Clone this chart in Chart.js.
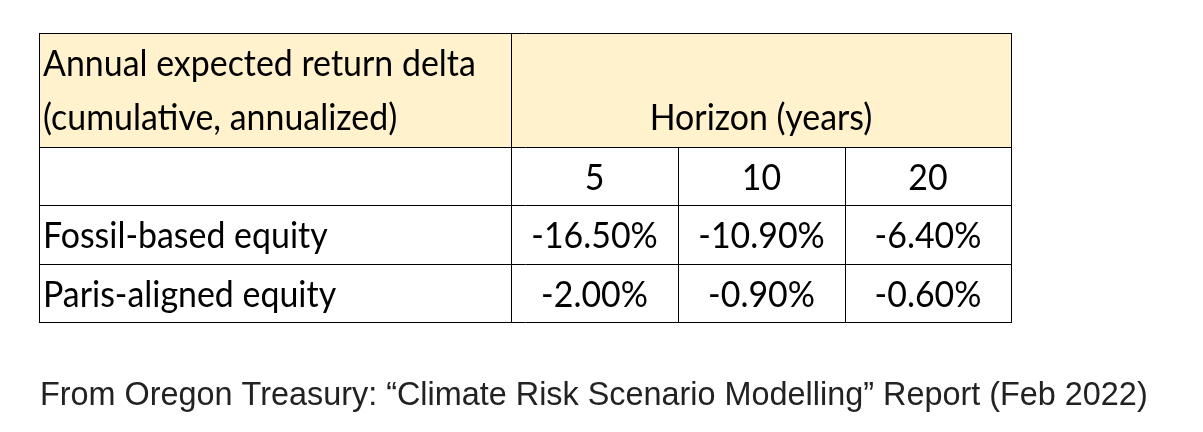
<!DOCTYPE html>
<html>
<head>
<meta charset="utf-8">
<script src="https://cdn.jsdelivr.net/npm/chart.js@4.4.1/dist/chart.umd.min.js"></script>
<style>
  html, body { margin: 0; padding: 0; background: #ffffff; }
  #wrap { position: relative; width: 1203px; height: 432px; }
  canvas { position: absolute; left: 0; top: 0; }
</style>
</head>
<body>
<div id="wrap"><canvas id="c" width="1203" height="432"></canvas></div>
<script>
// ---- data ----
const headerLines = ['Annual expected return delta', '(cumulative, annualized)'];
const horizonTitle = 'Horizon (years)';
const horizons = ['5', '10', '20'];
const rowLabels = ['Fossil-based equity', 'Paris-aligned equity'];
const fossilValues = [-16.5, -10.9, -6.4];
const parisValues = [-2.0, -0.9, -0.6];
const caption = 'From Oregon Treasury: \u201CClimate Risk Scenario Modelling\u201D Report (Feb 2022)';

const seriesValues = [fossilValues, parisValues];
const fmt = v => v.toFixed(2) + '%';

// fit font sizes to reference text widths
const mctx = document.createElement('canvas').getContext('2d');
function fitSize(family, text, target, weight) {
  mctx.font = (weight || 'normal') + ' 100px ' + family;
  return 100 * target / mctx.measureText(text).width;
}
const tableFamily = 'Lato';
const tableSize = fitSize(tableFamily, headerLines[0], 433);
const captionFamily = '"Liberation Sans", Arial';
const captionSize = fitSize(captionFamily, caption, 1108);

function drawText(ctx, t, x, y, sy) {
  ctx.save();
  ctx.translate(x, y);
  ctx.scale(1, sy);
  ctx.fillText(t, 0, 0);
  ctx.restore();
}

const tablePlugin = {
  id: 'tablePlugin',
  afterDraw(chart, args, opts) {
    const ctx = chart.ctx;
    const xs = chart.scales.x, ys = chart.scales.y;
    const X = v => xs.getPixelForValue(v);
    const Y = v => ys.getPixelForValue(v);
    const cols = opts.colEdges, rows = opts.rowEdges;
    const snap = p => Math.round(p) + 0.5;
    const sy = opts.textStretch;

    ctx.save();
    // header fill
    ctx.fillStyle = opts.headerFill;
    ctx.fillRect(X(cols[0]), Y(rows[0]), X(cols[cols.length - 1]) - X(cols[0]), Y(rows[1]) - Y(rows[0]));

    // grid lines
    ctx.strokeStyle = opts.lineColor;
    ctx.lineWidth = 1;
    ctx.beginPath();
    rows.forEach(r => {
      const y = snap(Y(r));
      ctx.moveTo(X(cols[0]), y); ctx.lineTo(X(cols[cols.length - 1]) + 1, y);
    });
    cols.forEach((c, i) => {
      const x = snap(X(c));
      const top = (i === 0 || i === 1 || i === cols.length - 1) ? rows[0] : rows[1];
      ctx.moveTo(x, Y(top)); ctx.lineTo(x, Y(rows[rows.length - 1]) + 1);
    });
    ctx.stroke();

    // text
    ctx.fillStyle = opts.textColor;
    ctx.font = tableSize.toFixed(2) + 'px ' + tableFamily;
    ctx.textBaseline = 'alphabetic';
    const pad = opts.padLeft;
    // header lines
    ctx.textAlign = 'left';
    headerLines.forEach((t, k) => {
      drawText(ctx, t, X(cols[0]) + pad, Y(rows[0] + opts.baseline + k * opts.headerLineGap), sy);
    });
    ctx.textAlign = 'center';
    drawText(ctx, horizonTitle, (X(cols[1]) + X(cols[cols.length - 1])) / 2,
      Y(rows[0] + opts.baseline + (headerLines.length - 1) * opts.headerLineGap), sy);
    // horizons
    horizons.forEach((h, j) => {
      drawText(ctx, h, (X(cols[j + 1]) + X(cols[j + 2])) / 2, Y(rows[1] + opts.baseline), sy);
    });
    // body rows
    rowLabels.forEach((lab, i) => {
      const yb = Y(rows[i + 2] + opts.baseline);
      ctx.textAlign = 'left';
      drawText(ctx, lab, X(cols[0]) + pad, yb, sy);
      ctx.textAlign = 'center';
      seriesValues[i].forEach((v, j) => {
        drawText(ctx, fmt(v), (X(cols[j + 1]) + X(cols[j + 2])) / 2, yb, sy);
      });
    });
    // caption
    ctx.fillStyle = opts.captionColor;
    ctx.textAlign = 'left';
    ctx.font = captionSize.toFixed(2) + 'px ' + captionFamily;
    drawText(ctx, caption, opts.captionX, opts.captionY, opts.captionStretch);
    ctx.restore();
  }
};

new Chart(document.getElementById('c'), {
  type: 'scatter',
  data: { datasets: [] },
  options: {
    responsive: false,
    animation: false,
    devicePixelRatio: 1,
    layout: { padding: { left: 39, top: 33, right: 192, bottom: 110 } },
    scales: {
      x: { type: 'linear', min: 0, max: 972, offset: false, display: false },
      y: { type: 'linear', min: 0, max: 289, reverse: true, offset: false, display: false }
    },
    plugins: {
      legend: { display: false },
      title: { display: false },
      tooltip: { enabled: false },
      tablePlugin: {
        colEdges: [0, 472, 639, 806, 972],
        rowEdges: [0, 114, 172, 230.5, 289],
        baseline: 43,
        headerLineGap: 54,
        padLeft: 4,
        textStretch: 1.08,
        captionStretch: 1.04,
        headerFill: '#FFF2CC',
        lineColor: '#000000',
        textColor: '#000000',
        captionColor: '#222222',
        captionX: 40,
        captionY: 405
      }
    }
  },
  plugins: [tablePlugin]
});
</script>
</body>
</html>
